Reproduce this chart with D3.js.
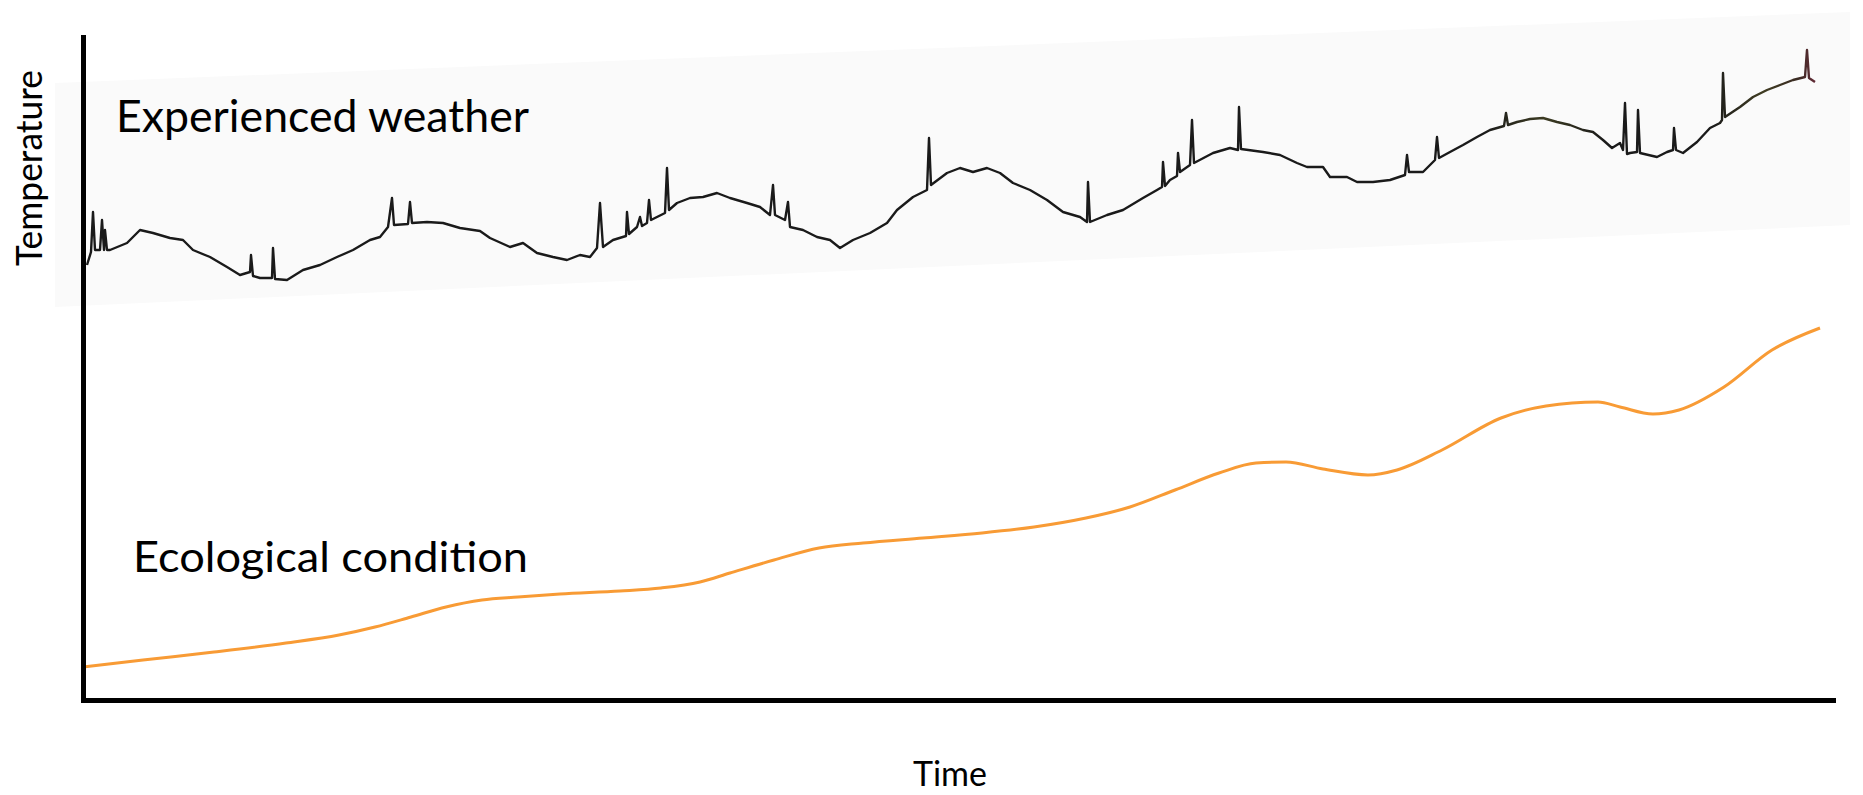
<!DOCTYPE html>
<html>
<head>
<meta charset="utf-8">
<script src="https://cdn.jsdelivr.net/npm/d3@7"></script>
<style>
  html, body { margin: 0; padding: 0; background: #ffffff; }
  svg { display: block; }
  text { font-family: Lato, "Open Sans", sans-serif; fill: #000; }
</style>
</head>
<body>
<svg id="chart" width="1863" height="795"></svg>
<script>
// ---- Data (time in arbitrary units, temperature in arbitrary units) ----
const weatherTime = [0.8,1.6,2,2.4,3.4,3.8,4.2,4.4,4.8,5.4,8.8,11.4,14,17.4,20,22,25.4,28.8,31.4,33.4,33.6,34,35.4,37.8,38,38.4,40.8,44,47.4,50.8,54,57.4,59.4,61,61.8,62.2,65,65.4,65.8,68.8,72,75.4,79.4,81.4,85.4,88,90.8,94,96.8,99.4,101.4,102.8,103.4,104,106,108.6,108.8,109.2,110.8,111.4,111.8,112.8,113.2,113.6,114.8,116.4,116.8,117.2,118.8,121.4,124,126.8,129.4,132.8,135.4,137.4,138,138.4,140.4,141,141.4,144,146.8,149.4,151.4,154,157.4,160.8,162.8,166,168.8,169.2,169.6,172.8,175.4,178,180.8,183.4,186,189.4,192.8,196,199.4,200.8,201,201.4,204.8,208,212,214.8,215.8,216,216.4,217.4,218.8,219,219.4,221.4,221.8,222.2,226,229.4,231,231.2,231.6,236,239.4,242.8,244.8,248,249.4,252.8,254.8,258,261.4,264.4,264.8,265.2,268,270.4,270.8,271.2,273.4,276,278.8,281.4,284.2,284.6,285,286.8,289.4,292,294.8,297.4,300,302,304,305.8,307.4,308,308.4,308.8,309.4,310.8,311,311.4,314.8,316.8,318,318.2,318.6,320,322.8,325.4,327.4,327.8,328,328.4,331.4,334,336.8,339.4,342,344.4,344.8,345.2,346.4];
const weatherTemp = [87,89.6,97.6,90,90,96,90,94,90,90,91.4,94,93.4,92.4,92,90,88.6,86.6,85,85.6,89,84.8,84.4,84.4,90.4,84.2,84,86,87,88.6,90,92,92.6,94.6,100.4,95,95.2,99.6,95.4,95.6,95.4,94.4,93.8,92.4,90.6,91.4,89.4,88.6,88,89,88.6,90.4,99.4,90.6,92,92.8,97.6,93.2,94.6,96.6,94.8,95.4,100,96,96.6,97.4,106.4,98,99.4,100.4,100.6,101.4,100.4,99.4,98.6,97,103,97,96,99.6,94.6,94,92.6,92,90.4,92,93.4,95.4,98,100.6,102,112.4,103,105.4,106.4,105.6,106.4,105.4,103.4,102,100,97.6,96.6,95.6,103.6,95.6,97,98,100.4,102,102.6,107.6,102.8,104,104.8,109.4,105.6,107,116,107.4,109.4,110.4,110,118.6,110.2,109.6,109,107.4,106.6,106.6,104.6,104.6,103.6,103.6,104,105,109,105.6,105.6,108,112.6,108.4,109.6,111,112.6,114,114.8,117.4,115,115.6,116.2,116.4,115.6,115,114,113.6,112,110.4,111.4,110,119.4,109.2,109.4,109.6,118,109.4,108.6,109.6,110,114.4,110,109.4,111.6,114.4,115.4,116,125.4,116.6,118.6,120.6,122,123,124,124.6,130,124.4,123.6];

const ecoTime  = [0,12,26.2,40.6,51.2,58.4,65.6,72.6,79.8,87,95.4,107.4,115.6,123.4,129.4,138.2,147.2,156,168,179.8,190.2,200.6,209.4,218.4,227.2,234.6,240.6,248,257,262.8,271.8,283.6,292.6,303,307.4,314,319.2,328.2,337.8,347.4];
const ecoValue = [6.6,8,9.6,11.4,13,14.6,16.6,18.6,20,20.6,21.2,21.8,22.4,23.6,25.4,28,30.4,31.4,32.4,33.4,34.6,36.4,38.6,42,45.4,47.4,47.6,46.2,45,46,50,56.4,58.8,59.6,58.6,57.2,58,62.6,70,74.4];

// faded backdrop band behind the weather trace (data units)
const bandTime = [-5.6, 353.4, 353.4, -5.6];
const bandTemp = [123.4, 137.6, 95, 78.6];

const labelWeather = "Experienced weather";
const labelEco = "Ecological condition";
const axisTitleX = "Time";
const axisTitleY = "Temperature";

// ---- Layout ----
const svg = d3.select("#chart");
const x = d3.scaleLinear().domain([0, 350]).range([83, 1833]);
const y = d3.scaleLinear().domain([0, 132.6]).range([700, 37]);

// backdrop band
const bandPts = bandTime.map((t, i) => [x(t), y(bandTemp[i])]);
svg.append("polygon")
  .attr("points", bandPts.map(p => p.join(",")).join(" "))
  .attr("fill", "#fafafa");

// gradient for the weather trace (slight colour tint at the end like the original)
const defs = svg.append("defs");
const grad = defs.append("linearGradient")
  .attr("id", "wgrad").attr("gradientUnits", "userSpaceOnUse")
  .attr("x1", x(0)).attr("x2", x(350)).attr("y1", 0).attr("y2", 0);
[[0, "#1a1a1a"], [0.80, "#1a1a1a"], [0.835, "#3c3b22"], [0.87, "#1a1a1a"], [0.93, "#1a1a1a"], [0.96, "#3f3c22"], [0.98, "#3a2a22"], [1, "#8a2a4a"]]
  .forEach(([o, c]) => grad.append("stop").attr("offset", o).attr("stop-color", c));

// weather trace
const weather = weatherTime.map((t, i) => [t, weatherTemp[i]]);
svg.append("path")
  .datum(weather)
  .attr("fill", "none")
  .attr("stroke", "url(#wgrad)")
  .attr("stroke-width", 2.4)
  .attr("stroke-linejoin", "round")
  .attr("d", d3.line().x(d => x(d[0])).y(d => y(d[1])).curve(d3.curveLinear));

// ecological condition curve
const eco = ecoTime.map((t, i) => [t, ecoValue[i]]);
svg.append("path")
  .datum(eco)
  .attr("fill", "none")
  .attr("stroke", "#f89b35")
  .attr("stroke-width", 3)
  .attr("d", d3.line().x(d => x(d[0])).y(d => y(d[1])).curve(d3.curveMonotoneX));

// axes (no ticks)
const xAxis = svg.append("g").attr("transform", `translate(0,${y(0)})`)
  .call(d3.axisBottom(x).ticks(0).tickSize(0).tickSizeOuter(0));
const yAxis = svg.append("g").attr("transform", `translate(${x(0)},0)`)
  .call(d3.axisLeft(y).ticks(0).tickSize(0).tickSizeOuter(0));
[xAxis, yAxis].forEach(g => g.select(".domain")
  .attr("stroke", "#000").attr("stroke-width", 5).attr("stroke-linecap", "square"));
xAxis.selectAll(".tick").remove();
yAxis.selectAll(".tick").remove();

// labels
svg.append("text").attr("x", 116).attr("y", 132)
  .attr("font-size", 44).attr("textLength", 413).attr("lengthAdjust", "spacingAndGlyphs")
  .text(labelWeather);
svg.append("text").attr("x", 133).attr("y", 572)
  .attr("font-size", 43).attr("textLength", 395).attr("lengthAdjust", "spacingAndGlyphs")
  .text(labelEco);
svg.append("text").attr("x", 950).attr("y", 786)
  .attr("font-size", 34).attr("text-anchor", "middle")
  .text(axisTitleX);
svg.append("text")
  .attr("transform", "translate(42,168) rotate(-90)")
  .attr("font-size", 36).attr("text-anchor", "middle")
  .attr("textLength", 196).attr("lengthAdjust", "spacingAndGlyphs")
  .text(axisTitleY);
</script>
</body>
</html>
